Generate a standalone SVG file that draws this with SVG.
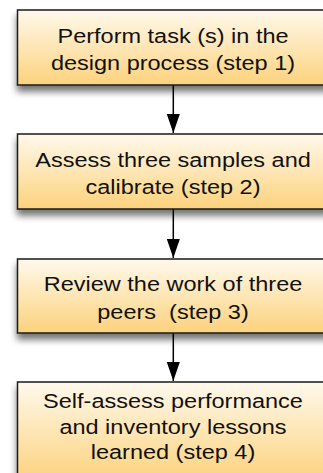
<svg xmlns="http://www.w3.org/2000/svg" width="323" height="473" viewBox="0 0 323 473">
<style>
.box{fill:url(#g);stroke:#1a1a1a;stroke-width:1.5;filter:url(#sh)}
.t{font-family:"Liberation Sans",Arial,sans-serif;font-size:20px;fill:#111;text-anchor:middle}
.c{stroke:#000;stroke-width:1.5;fill:none;marker-end:url(#ah)}
</style>
<defs>
<linearGradient id="g" x1="0" y1="0" x2="0" y2="1">
<stop offset="0" stop-color="#fff9ec"/>
<stop offset="1" stop-color="#fcd27c"/>
</linearGradient>
<filter id="sh" x="-10%" y="-20%" width="120%" height="160%">
<feGaussianBlur in="SourceAlpha" stdDeviation="3.5"/>
<feOffset dx="0" dy="6" result="b"/>
<feComponentTransfer><feFuncA type="linear" slope="0.55"/></feComponentTransfer>
<feMerge><feMergeNode/><feMergeNode in="SourceGraphic"/></feMerge>
</filter>
<marker id="ah" markerWidth="20" markerHeight="14" refX="19.5" refY="7" orient="auto" markerUnits="userSpaceOnUse" viewBox="0 0 20 14">
<path d="M0,0.3 L19.5,7 L0,13.7 Z" fill="#000"/>
</marker>
</defs>
<g id="connectors">
<path class="c" d="M173.3,85 V133"/>
<path class="c" d="M173.3,209 V258"/>
<path class="c" d="M173.3,333 V381"/>
</g>
<g id="n1">
<rect class="box" x="17.5" y="10" width="311" height="75"/>
<g transform="translate(173 0) scale(1.175 1)">
<text class="t" x="0" y="43">Perform task (s) in the</text>
<text class="t" x="0" y="70">design process (step 1)</text>
</g>
</g>
<g id="n2">
<rect class="box" x="17.5" y="134" width="311" height="75"/>
<g transform="translate(173 0) scale(1.175 1)">
<text class="t" x="0" y="167">Assess three samples and</text>
<text class="t" x="0" y="194">calibrate (step 2)</text>
</g>
</g>
<g id="n3">
<rect class="box" x="17.5" y="259" width="311" height="74"/>
<g transform="translate(173 0) scale(1.175 1)">
<text class="t" x="0" y="291">Review the work of three</text>
<text class="t" x="0" y="319" xml:space="preserve">peers  (step 3)</text>
</g>
</g>
<g id="n4">
<rect class="box" x="17.5" y="382" width="311" height="100"/>
<g transform="translate(173 0) scale(1.175 1)">
<text class="t" x="0" y="408">Self-assess performance</text>
<text class="t" x="0" y="434">and inventory lessons</text>
<text class="t" x="0" y="459">learned (step 4)</text>
</g>
</g>
</svg>
